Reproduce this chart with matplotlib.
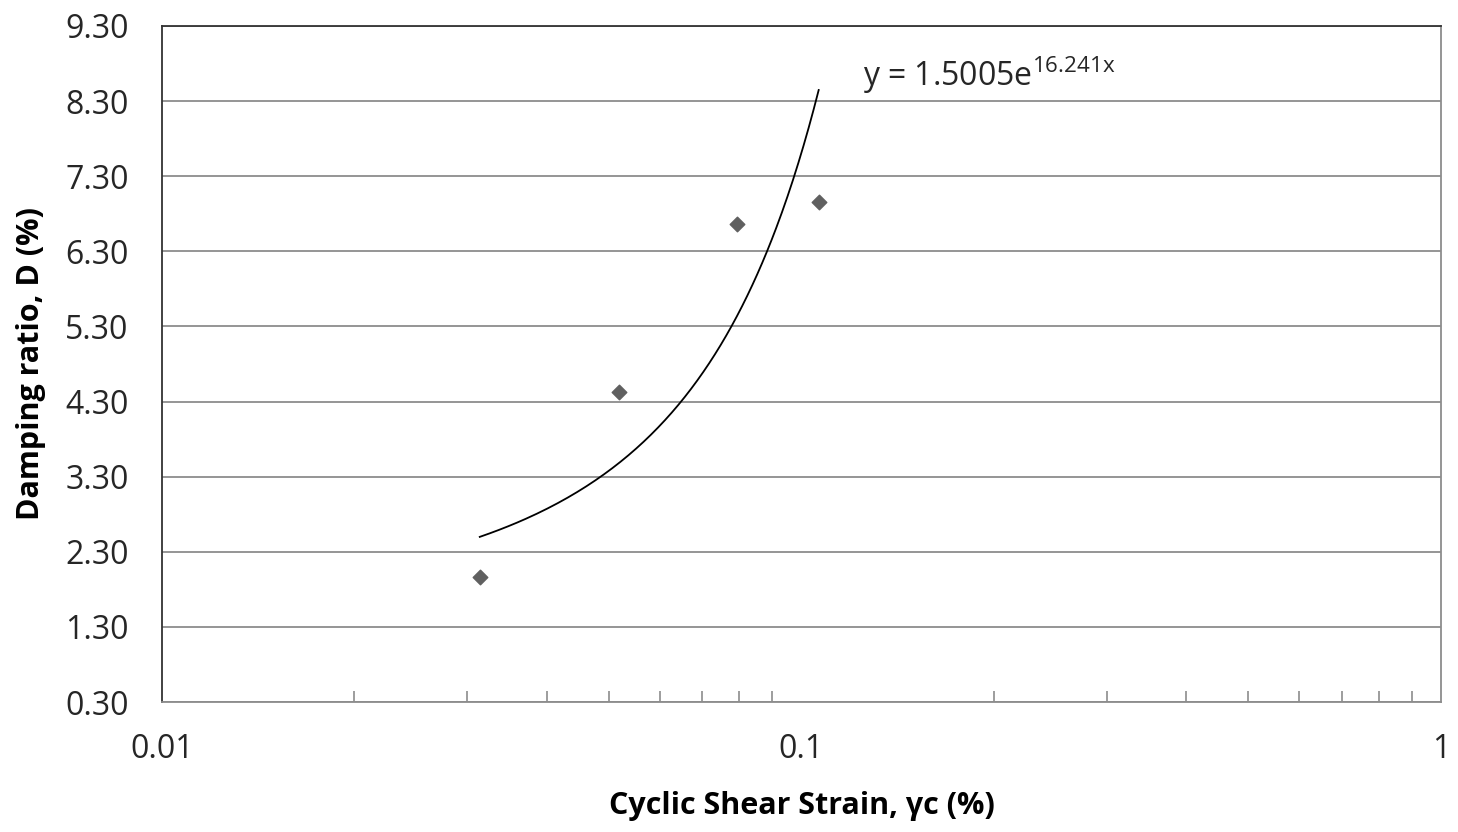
import numpy as np
import matplotlib.pyplot as plt

plt.rcParams['font.family'] = ['Open Sans', 'DejaVu Sans']
plt.rcParams['mathtext.fontset'] = 'custom'
plt.rcParams['mathtext.rm'] = 'Open Sans'
plt.rcParams['mathtext.default'] = 'regular'

# measured points
strain = [0.0314, 0.0518, 0.0793, 0.1064]
damping = [1.96, 4.43, 6.66, 6.96]

# exponential trendline from the chart equation
fit_a = 1.5005
fit_b = 16.241

y_ticks = [0.30, 1.30, 2.30, 3.30, 4.30, 5.30, 6.30, 7.30, 8.30, 9.30]
x_ticks = [0.01, 0.1, 1]
x_labels = ['0.01', '0.1', '1']

fig = plt.figure(figsize=(14.58, 8.32), dpi=100)
ax = fig.add_axes([0.1111, 0.1562, 0.8772, 0.8126])

xs = np.linspace(min(strain), max(strain), 200)
ax.plot(xs, fit_a * np.exp(fit_b * xs), color='black', lw=1.3)
ax.scatter(strain, damping, marker='D', s=55, color='#606060', zorder=3)

ax.set_xscale('log')
ax.set_xlim(0.01, 1)
ax.set_ylim(0.30, 9.30)
ax.set_yticks(y_ticks)
ax.set_yticklabels([f'{v:.2f}' for v in y_ticks])
ax.set_xticks(x_ticks)
ax.set_xticklabels(x_labels)
ax.tick_params(axis='both', which='major', length=0, labelsize=23, labelcolor='#262626')
ax.tick_params(axis='x', which='major', pad=22)
ax.tick_params(axis='y', which='major', pad=24)
ax.tick_params(axis='x', which='minor', direction='in', length=8, width=1.2, color='#8c8c8c')
ax.xaxis.set_minor_formatter(plt.NullFormatter())
ax.tick_params(axis='y', which='minor', length=0)

ax.grid(axis='y', color='#8c8c8c', lw=1.3)
ax.set_axisbelow(True)
for side in ['left', 'top']:
    ax.spines[side].set_color('#333333')
    ax.spines[side].set_linewidth(1.3)
for side in ['right', 'bottom']:
    ax.spines[side].set_color('#8c8c8c')
    ax.spines[side].set_linewidth(1.3)

ax.set_xlabel('Cyclic Shear Strain, γc (%)', fontsize=22, fontweight='bold', labelpad=18)
ax.set_ylabel('Damping ratio, D (%)', fontsize=22, fontweight='bold', labelpad=14)

ax.text(0.548, 0.927, r'y = 1.5005e$^{16.241x}$', transform=ax.transAxes,
        fontsize=23, color='#262626', va='center', ha='left')

fig.savefig('out.png', dpi=100)
